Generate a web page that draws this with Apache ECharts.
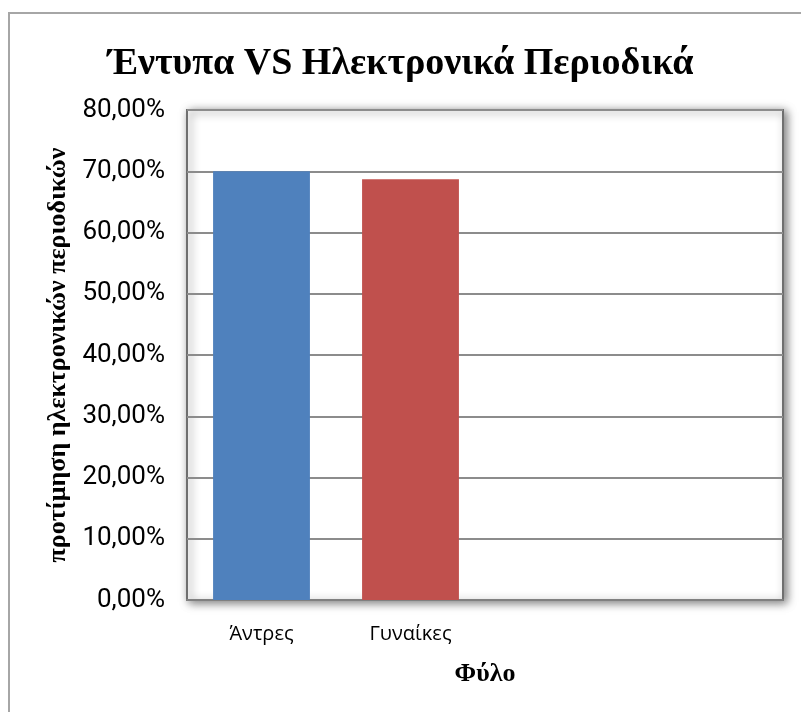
<!DOCTYPE html>
<html>
<head>
<meta charset="utf-8">
<script src="https://cdn.jsdelivr.net/npm/echarts@6/dist/echarts.min.js"></script>
<style>
html,body{margin:0;padding:0;background:#fff;}
#chart{width:801px;height:712px;}
</style>
</head>
<body>
<div id="chart"></div>
<script>
const titleText = 'Έντυπα VS Ηλεκτρονικά Περιοδικά';
const categories = ['Άντρες', 'Γυναίκες', '', ''];
const values = [70.0, 68.7, null, null];
const barColors = ['#4F81BD', '#C0504D'];
const yAxisName = 'προτίμηση ηλεκτρονικών περιοδικών';
const xAxisName = 'Φύλο';

const chart = echarts.init(document.getElementById('chart'), null, {renderer: 'canvas'});
chart.setOption({
  backgroundColor: '#fff',
  animation: false,
  title: {
    text: titleText,
    left: 'center',
    top: 40,
    textStyle: {fontFamily: 'Liberation Serif', fontWeight: 'bold', fontSize: 38, color: '#000'}
  },
  graphic: [{
    type: 'rect',
    shape: {x: 9, y: 13, width: 820, height: 720},
    style: {fill: 'none', stroke: '#a6a6a6', lineWidth: 2},
    silent: true
  }],
  grid: {
    left: 187, right: 18, top: 110, bottom: 112,
    show: true,
    borderColor: '#6f6f6f',
    borderWidth: 2,
    backgroundColor: '#fff',
    shadowColor: 'rgba(0,0,0,0.5)',
    shadowBlur: 9,
    shadowOffsetX: 3,
    shadowOffsetY: 2
  },
  xAxis: {
    type: 'category',
    data: categories,
    name: xAxisName,
    nameLocation: 'middle',
    nameGap: 61,
    nameTextStyle: {fontFamily: 'Liberation Serif', fontWeight: 'bold', fontSize: 26, color: '#000'},
    axisLine: {show: true, lineStyle: {color: '#808080', width: 2}},
    axisTick: {show: false},
    axisLabel: {fontFamily: 'Open Sans', fontSize: 20, color: '#000', margin: 24}
  },
  yAxis: {
    type: 'value',
    min: 0, max: 80, interval: 10,
    name: yAxisName,
    nameLocation: 'middle',
    nameGap: 110,
    nameTextStyle: {fontFamily: 'Liberation Serif', fontWeight: 'bold', fontSize: 26, color: '#000'},
    axisLine: {show: false},
    axisTick: {show: false},
    splitLine: {show: true, lineStyle: {color: '#8c8c8c', width: 2}},
    axisLabel: {
      fontFamily: 'Roboto', fontSize: 26, color: '#000', margin: 22,
      formatter: v => v.toFixed(2).replace('.', ',') + '%'
    }
  },
  series: [{
    type: 'bar',
    barCategoryGap: '35%',
    data: values.map((v, i) => ({value: v, itemStyle: {color: barColors[i % barColors.length]}}))
  }]
});
</script>
</body>
</html>
